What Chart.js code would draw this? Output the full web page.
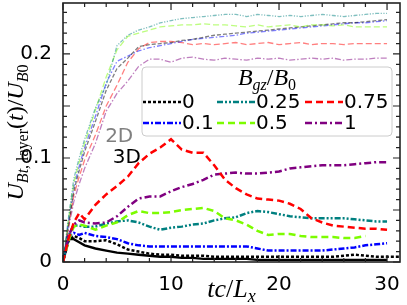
<!DOCTYPE html>
<html><head><meta charset="utf-8">
<script src="https://cdn.jsdelivr.net/npm/chart.js@4.4.0/dist/chart.umd.min.js"></script>
<style>html,body{margin:0;padding:0;background:#fff;}#wrap{width:407px;height:305px;}</style>
</head><body><div id="wrap"><canvas id="c" width="407" height="305"></canvas></div>
<script>
// ---- data ----
const time = [0,0.5,1,1.5,2,3,4,5,6,7,8,9,10,11,12,13,14,15,16,17,18,19,20,21,22,23,24,25,26,27,28,29,30,31.5];

// 3D runs
const u3d_0    = [0,0.020,0.025,0.023,0.020,0.020,0.021,0.017,0.012,0.010,0.008,0.007,0.007,0.006,0.006,0.006,0.005,0.005,0.005,0.005,0.005,0.005,0.005,0.005,0.005,0.005,0.005,0.005,0.006,0.007,0.006,0.005,0.005,0.005];
const u3d_0b   = [0,0.022,0.022,0.019,0.016,0.013,0.011,0.009,0.008,0.007,0.006,0.005,0.005,0.004,0.004,0.003,0.003,0.003,0.003,0.003,0.002,0.002,0.002,0.002,0.002,0.002,0.002,0.002,0.002,0.002,0.002,0.002,0.002,null];
const u3d_01   = [0,0.024,0.028,0.026,0.028,0.025,0.024,0.022,0.018,0.016,0.015,0.015,0.015,0.015,0.015,0.015,0.015,0.015,0.015,0.015,0.013,0.011,0.011,0.011,0.011,0.011,0.011,0.012,0.013,0.014,0.016,0.017,0.018,null];
const u3d_025  = [0,0.025,0.035,0.035,0.034,0.034,0.037,0.039,0.040,0.038,0.034,0.031,0.033,0.034,0.036,0.037,0.040,0.042,0.043,0.047,0.049,0.048,0.046,0.044,0.043,0.042,0.042,0.042,0.042,0.041,0.040,0.039,0.039,null];
const u3d_05   = [0,0.020,0.034,0.036,0.035,0.031,0.035,0.038,0.045,0.049,0.047,0.047,0.048,0.050,0.051,0.052,0.049,0.042,0.040,0.036,0.030,0.026,0.027,0.027,0.025,0.024,0.024,0.024,0.023,0.023,0.025,null,null,null];
const u3d_075  = [0,0.022,0.038,0.047,0.041,0.055,0.065,0.073,0.082,0.095,0.104,0.110,0.118,0.108,0.105,0.105,0.093,0.079,0.071,0.065,0.061,0.060,0.059,0.056,0.051,0.042,0.038,0.035,0.034,0.033,0.032,0.032,0.031,null];
const u3d_1    = [0,0.025,0.036,0.040,0.038,0.037,0.038,0.044,0.053,0.061,0.063,0.063,0.068,0.072,0.075,0.079,0.084,0.085,0.086,0.085,0.085,0.086,0.087,0.090,0.091,0.092,0.093,0.093,0.093,0.094,0.095,0.096,0.096,null];

// 2D runs
const u2d_0    = [0,0.035,0.068,0.088,0.106,0.135,0.165,0.186,0.196,0.207,0.209,0.210,0.211,0.213,0.214,0.216,0.218,0.219,0.220,0.221,0.222,0.223,0.224,0.225,0.226,0.227,0.228,0.229,0.230,0.230,0.231,0.232,0.233,null];
const u2d_01   = [0,0.038,0.072,0.092,0.110,0.140,0.172,0.193,0.198,0.203,0.206,0.208,0.210,0.212,0.214,0.215,0.216,0.217,0.218,0.220,0.221,0.222,0.223,0.224,0.225,0.226,0.227,0.228,0.229,0.230,0.230,0.231,0.232,null];
const u2d_025  = [0,0.042,0.080,0.100,0.118,0.148,0.170,0.208,0.218,0.223,0.226,0.230,0.232,0.234,0.235,0.236,0.237,0.238,0.238,0.236,0.238,0.237,0.236,0.237,0.236,0.237,0.238,0.237,0.236,0.237,0.238,0.239,0.239,null];
const u2d_05   = [0,0.040,0.076,0.096,0.114,0.146,0.178,0.204,0.217,0.220,0.223,0.226,0.227,0.228,0.228,0.229,0.228,0.228,0.227,0.226,0.228,0.226,0.227,0.228,0.226,0.228,0.228,0.227,0.228,0.226,0.226,0.226,0.226,null];
const u2d_075  = [0,0.034,0.064,0.082,0.098,0.122,0.150,0.170,0.192,0.205,0.211,0.212,0.212,0.211,0.209,0.210,0.209,0.210,0.211,0.209,0.210,0.211,0.209,0.210,0.211,0.209,0.210,0.210,0.209,0.210,0.210,0.210,0.210,null];
const u2d_1    = [0,0.032,0.058,0.075,0.090,0.114,0.145,0.162,0.174,0.188,0.195,0.195,0.192,0.196,0.197,0.195,0.194,0.196,0.195,0.194,0.196,0.195,0.196,0.194,0.195,0.196,0.195,0.196,0.194,0.195,0.195,0.196,0.196,null];

const legendLabels = ['0','0.1','0.25','0.5','0.75','1'];
const xTickLabels = [0,10,20,30];
const yTickLabels = [0,0.1,0.2];
const xMinorStep = 2, xMajorStep = 10;
const yMinorStep = 0.01, yMajorStep = 0.05;

// ---- styles ----
const C = {k:'#000000', b:'#0000ff', t:'#008080', g:'#7cfc00', r:'#ff0000', p:'#800080'};
const D3 = {k:[3,2], b:[6,2,2,2], t:[6,2,2,2,2,2], g:[7,4], r:[7,4], p:[7,3,2,3]};
const D2 = {k:[4,2], b:[5,2,1.5,2], t:[4,1.5,1.2,1.5,1.2,1.5], g:[6,3], r:[6,3], p:[6,2,1.5,2]};
function rgba(hex,a){const n=parseInt(hex.slice(1),16);return `rgba(${n>>16&255},${n>>8&255},${n&255},${a})`;}
const pts = arr => time.map((t,i)=>({x:t,y:arr[i]}));
function ds3(arr,key,extra){return Object.assign({data:pts(arr),borderColor:C[key],borderWidth:2.5,borderDash:D3[key],pointRadius:0,fill:false},extra||{});}
function ds2(arr,key){return {data:pts(arr),borderColor:rgba(C[key],key==='k'?0.5:0.5),borderWidth:1.3,borderDash:D2[key],pointRadius:0,fill:false};}

const datasets = [
  ds3(u3d_075,'r'), ds3(u3d_1,'p'), ds3(u3d_05,'g'), ds3(u3d_025,'t'), ds3(u3d_01,'b'),
  ds3(u3d_0,'k'), ds3(u3d_0b,'k',{borderDash:[],borderWidth:2.4}),
  ds2(u2d_025,'t'), ds2(u2d_05,'g'), ds2(u2d_0,'k'), ds2(u2d_01,'b'), ds2(u2d_075,'r'), ds2(u2d_1,'p')
];
const legendKeys = ['k','b','t','g','r','p'];

const SERIF = '"Liberation Serif", "DejaVu Serif", serif';
function rich(ctx, runs, cx, y){
  let w=0; runs.forEach(r=>{ctx.font=r.f; r.w=ctx.measureText(r.t).width; w+=r.w;});
  let x=cx-w/2;
  ctx.textAlign='left'; ctx.textBaseline='alphabetic';
  runs.forEach(r=>{ctx.font=r.f; ctx.fillText(r.t,x,y+(r.dy||0)); x+=r.w;});
}
const M=(s)=>`italic ${s}px ${SERIF}`, R=(s)=>`${s}px ${SERIF}`;

const decor = {
  id:'decor',
  beforeDraw(chart){const c=chart.ctx;c.save();c.fillStyle='#fff';c.fillRect(0,0,chart.width,chart.height);c.restore();},
  afterDatasetsDraw(chart){
    const c=chart.ctx, a=chart.chartArea, xs=chart.scales.x, ys=chart.scales.y;
    c.save();
    // annotations
    c.font='20px "DejaVu Sans"'; c.textAlign='left'; c.textBaseline='alphabetic';
    c.fillStyle='#808080'; c.fillText('2D', xs.getPixelForValue(3.9), ys.getPixelForValue(0.115));
    c.fillStyle='#000'; c.fillText('3D', xs.getPixelForValue(4.6), ys.getPixelForValue(0.095));
    // frame
    c.strokeStyle='#222'; c.lineWidth=1.6; c.setLineDash([]);
    c.strokeRect(a.left,a.top,a.right-a.left,a.bottom-a.top);
    // inward ticks
    c.lineWidth=1.2; c.beginPath();
    for(let i=0;;i++){const v=i*xMinorStep; if(v>xs.max+1e-9)break; const p=xs.getPixelForValue(v);
      const L=(Math.abs(v/xMajorStep-Math.round(v/xMajorStep))<1e-6)?7:4;
      c.moveTo(p,a.bottom);c.lineTo(p,a.bottom-L);c.moveTo(p,a.top);c.lineTo(p,a.top+L);}
    for(let i=0;;i++){const v=i*yMinorStep; if(v>ys.max+1e-9)break; const p=ys.getPixelForValue(v);
      const L=(Math.abs(v/yMajorStep-Math.round(v/yMajorStep))<1e-6)?7:4;
      c.moveTo(a.left,p);c.lineTo(a.left+L,p);c.moveTo(a.right,p);c.lineTo(a.right-L,p);}
    c.stroke();
    // legend
    const bx=142, by=67, bw=250, bh=69, rr=4;
    c.beginPath(); c.roundRect(bx,by,bw,bh,rr); c.fillStyle='rgba(255,255,255,0.8)'; c.fill();
    c.strokeStyle='#cccccc'; c.lineWidth=1; c.stroke();
    c.fillStyle='#000';
    rich(c,[{t:'B',f:M(24)},{t:'gz',f:M(16),dy:5},{t:'/',f:R(24)},{t:'B',f:M(24)},{t:'0',f:R(16),dy:5}],267,85);
    const colX=[143,217,305], rowY=[102,123];
    legendKeys.forEach((k,i)=>{
      const col=Math.floor(i/2), row=i%2, x0=colX[col], y0=rowY[row];
      c.beginPath(); c.strokeStyle=C[k]; c.lineWidth=2.5; c.setLineDash(D3[k]);
      c.moveTo(x0,y0); c.lineTo(x0+38,y0); c.stroke(); c.setLineDash([]);
      c.fillStyle='#000'; c.font='20px "DejaVu Sans"'; c.textAlign='left'; c.textBaseline='middle';
      c.fillText(legendLabels[i], x0+39, y0+1);
    });
    // axis titles
    c.fillStyle='#000';
    rich(c,[{t:'tc',f:M(26)},{t:'/',f:R(26)},{t:'L',f:M(26)},{t:'x',f:M(18),dy:5}],(a.left+a.right)/2,297);
    c.save(); c.translate(23,(a.top+a.bottom)/2); c.rotate(-Math.PI/2);
    rich(c,[{t:'U',f:M(24)},{t:'Bt',f:M(16),dy:5},{t:', layer',f:R(16),dy:5},{t:'(',f:R(24)},{t:'t',f:M(24)},{t:')',f:R(24)},{t:'/',f:R(24)},{t:'U',f:M(24)},{t:'B',f:M(16),dy:5},{t:'0',f:R(16),dy:5}],0,0);
    c.restore();
    c.restore();
  }
};

new Chart(document.getElementById('c'),{
  type:'line',
  data:{datasets},
  options:{
    responsive:false, animation:false, devicePixelRatio:1,
    layout:{padding:{top:3,right:7,left:0,bottom:0}},
    plugins:{legend:{display:false},tooltip:{enabled:false}},
    elements:{point:{radius:0},line:{tension:0,borderCapStyle:'butt'}},
    scales:{
      x:{type:'linear',min:0,max:31.2,border:{display:false},grid:{display:false},
        afterBuildTicks:s=>{s.ticks=xTickLabels.map(v=>({value:v}));},
        ticks:{autoSkip:false,maxRotation:0,padding:3,color:'#000',font:{family:'DejaVu Sans',size:20},callback:v=>String(v)},
        afterFit:s=>{s.height=43;s.paddingLeft=0;s.paddingRight=0;}},
      y:{type:'linear',min:0,max:0.249,border:{display:false},grid:{display:false},
        afterBuildTicks:s=>{s.ticks=yTickLabels.map(v=>({value:v}));},
        ticks:{autoSkip:false,padding:3,color:'#000',font:{family:'DejaVu Sans',size:20},callback:v=>v===0?'0':Number(v).toFixed(1)},
        afterFit:s=>{s.width=63;s.paddingTop=0;s.paddingBottom=0;}}
    }
  },
  plugins:[decor]
});
</script></body></html>
